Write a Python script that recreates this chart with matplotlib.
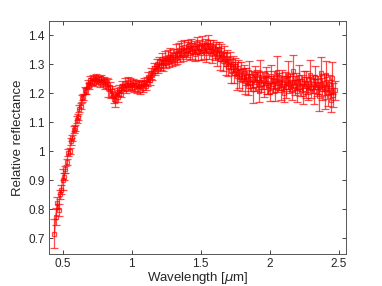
import numpy as np
import matplotlib.pyplot as plt

# wavelength grid (um)
wl_vis = [0.44, 0.45, 0.46, 0.47, 0.48, 0.49, 0.50,
          0.51, 0.52, 0.53, 0.54, 0.55, 0.56, 0.57, 0.58, 0.59, 0.60,
          0.61, 0.62, 0.63, 0.64, 0.65, 0.66, 0.67, 0.68, 0.69, 0.70,
          0.71, 0.72, 0.73, 0.74, 0.75, 0.76, 0.77, 0.78, 0.79, 0.80,
          0.81, 0.82, 0.83, 0.84, 0.85, 0.86, 0.87, 0.88, 0.89, 0.90,
          0.91, 0.92, 0.93, 0.94, 0.95, 0.96, 0.97, 0.98, 0.99, 1.00,
          1.01, 1.02, 1.03, 1.04, 1.05, 1.06, 1.07, 1.08, 1.09, 1.10]
wl_nir = [1.11, 1.12, 1.13, 1.14, 1.15, 1.16, 1.17, 1.18, 1.19, 1.20,
          1.21, 1.22, 1.23, 1.24, 1.25, 1.26, 1.27, 1.28, 1.29, 1.30,
          1.31, 1.32, 1.33, 1.34, 1.35, 1.36, 1.37, 1.38, 1.39, 1.40,
          1.41, 1.42, 1.43, 1.44, 1.45, 1.46, 1.47, 1.48, 1.49, 1.50,
          1.51, 1.52, 1.53, 1.54, 1.55, 1.56, 1.57, 1.58, 1.59, 1.60,
          1.61, 1.62, 1.63, 1.64, 1.65, 1.66, 1.67, 1.68, 1.69, 1.70,
          1.71, 1.72, 1.73, 1.74, 1.75, 1.76, 1.77, 1.78, 1.79, 1.80,
          1.81, 1.82, 1.83, 1.84, 1.85, 1.86, 1.87, 1.88, 1.89, 1.90,
          1.91, 1.92, 1.93, 1.94, 1.95, 1.96, 1.97, 1.98, 1.99, 2.00,
          2.01, 2.02, 2.03, 2.04, 2.05, 2.06, 2.07, 2.08, 2.09, 2.10,
          2.11, 2.12, 2.13, 2.14, 2.15, 2.16, 2.17, 2.18, 2.19, 2.20,
          2.21, 2.22, 2.23, 2.24, 2.25, 2.26, 2.27, 2.28, 2.29, 2.30,
          2.31, 2.32, 2.33, 2.34, 2.35, 2.36, 2.37, 2.38, 2.39, 2.40,
          2.41, 2.42, 2.43, 2.44, 2.45, 2.46, 2.47]

# relative reflectance
refl_vis = [0.715, 0.775, 0.822, 0.798, 0.852, 0.868, 0.902,
            0.912, 0.938, 0.962, 0.994, 1.002, 1.034, 1.046, 1.074, 1.080, 1.108,
            1.118, 1.146, 1.156, 1.182, 1.186, 1.210, 1.208, 1.232, 1.226, 1.246,
            1.240, 1.252, 1.236, 1.256, 1.242, 1.250, 1.234, 1.252, 1.238, 1.246,
            1.226, 1.240, 1.218, 1.222, 1.198, 1.206, 1.180, 1.176, 1.204, 1.186,
            1.214, 1.198, 1.226, 1.220, 1.236, 1.214, 1.240, 1.222, 1.236, 1.218,
            1.238, 1.220, 1.234, 1.214, 1.230, 1.212, 1.234, 1.218, 1.240, 1.226]
refl_nir = [1.240, 1.256, 1.244, 1.268, 1.262, 1.286, 1.278, 1.300, 1.284, 1.306,
            1.298, 1.318, 1.296, 1.322, 1.304, 1.326, 1.308, 1.334, 1.312, 1.330,
            1.318, 1.344, 1.322, 1.348, 1.326, 1.354, 1.332, 1.358, 1.336, 1.350,
            1.362, 1.338, 1.366, 1.344, 1.356, 1.336, 1.370, 1.342, 1.360, 1.338,
            1.372, 1.346, 1.364, 1.338, 1.376, 1.344, 1.362, 1.334, 1.358, 1.342,
            1.348, 1.326, 1.352, 1.318, 1.340, 1.310, 1.336, 1.300, 1.322, 1.292,
            1.312, 1.276, 1.300, 1.268, 1.292, 1.258, 1.286, 1.250, 1.278, 1.246,
            1.270, 1.242, 1.258, 1.224, 1.272, 1.236, 1.248, 1.216, 1.266, 1.240,
            1.250, 1.208, 1.268, 1.232, 1.244, 1.222, 1.262, 1.236, 1.228, 1.204,
            1.258, 1.230, 1.246, 1.212, 1.272, 1.234, 1.240, 1.218, 1.250, 1.200,
            1.244, 1.222, 1.262, 1.230, 1.236, 1.212, 1.276, 1.226, 1.240, 1.206,
            1.256, 1.220, 1.234, 1.198, 1.248, 1.230, 1.226, 1.210, 1.264, 1.218,
            1.232, 1.206, 1.254, 1.220, 1.228, 1.190, 1.270, 1.214, 1.236, 1.186,
            1.262, 1.200, 1.230, 1.176, 1.252, 1.194, 1.210]

# 1-sigma uncertainties
err_vis = [0.050, 0.030, 0.020, 0.020, 0.015, 0.015, 0.035,
           0.012, 0.012, 0.010, 0.012, 0.010, 0.012, 0.010, 0.012, 0.010, 0.012,
           0.010, 0.012, 0.010, 0.012, 0.010, 0.012, 0.010, 0.012, 0.010, 0.012,
           0.012, 0.010, 0.012, 0.010, 0.012, 0.010, 0.012, 0.010, 0.012, 0.010,
           0.012, 0.012, 0.030, 0.015, 0.015, 0.018, 0.015, 0.022, 0.015, 0.018,
           0.015, 0.012, 0.015, 0.012, 0.015, 0.012, 0.015, 0.012, 0.015, 0.012,
           0.012, 0.015, 0.012, 0.015, 0.012, 0.015, 0.012, 0.015, 0.012, 0.015]
err_nir = [0.015, 0.018, 0.015, 0.018, 0.015, 0.018, 0.015, 0.018, 0.015, 0.020,
           0.018, 0.022, 0.018, 0.022, 0.018, 0.022, 0.018, 0.022, 0.018, 0.022,
           0.020, 0.025, 0.020, 0.025, 0.020, 0.025, 0.020, 0.025, 0.020, 0.025,
           0.022, 0.025, 0.022, 0.028, 0.022, 0.025, 0.022, 0.028, 0.022, 0.025,
           0.025, 0.028, 0.022, 0.030, 0.025, 0.028, 0.022, 0.030, 0.025, 0.028,
           0.028, 0.032, 0.025, 0.038, 0.028, 0.032, 0.025, 0.038, 0.028, 0.032,
           0.030, 0.042, 0.028, 0.032, 0.030, 0.048, 0.028, 0.032, 0.030, 0.038,
           0.028, 0.045, 0.030, 0.032, 0.040, 0.028, 0.030, 0.050, 0.028, 0.032,
           0.030, 0.038, 0.045, 0.028, 0.030, 0.035, 0.028, 0.040, 0.030, 0.032,
           0.040, 0.028, 0.032, 0.038, 0.055, 0.030, 0.028, 0.042, 0.030, 0.032,
           0.030, 0.038, 0.048, 0.028, 0.030, 0.035, 0.055, 0.032, 0.028, 0.038,
           0.042, 0.030, 0.028, 0.035, 0.030, 0.045, 0.028, 0.032, 0.050, 0.035,
           0.032, 0.042, 0.040, 0.030, 0.032, 0.050, 0.055, 0.038, 0.030, 0.040,
           0.050, 0.045, 0.032, 0.042, 0.055, 0.040, 0.032]

wl = np.array(wl_vis + wl_nir)
refl = np.array(refl_vis + refl_nir)
err = np.array(err_vis + err_nir)

plt.rcParams['font.family'] = ['Liberation Sans', 'DejaVu Sans']
txt = '#262626'

fig = plt.figure(figsize=(3.82, 2.86), dpi=100)
ax = fig.add_axes([0.128, 0.111, 0.777, 0.817])

red = (1, 0, 0, 0.7)
ax.errorbar(wl, refl, yerr=err, fmt='-s', color=red, ecolor=red,
            mec=red, mfc='none', ms=3.5, lw=0.9, mew=0.9,
            elinewidth=0.9, capsize=2.8, capthick=0.9)

ax.set_xlim(0.4, 2.55)
ax.set_ylim(0.645, 1.45)
ax.set_xticks([0.5, 1, 1.5, 2, 2.5])
ax.set_xticklabels(['0.5', '1', '1.5', '2', '2.5'])
ax.set_yticks([0.7, 0.8, 0.9, 1.0, 1.1, 1.2, 1.3, 1.4])
ax.set_yticklabels(['0.7', '0.8', '0.9', '1', '1.1', '1.2', '1.3', '1.4'])

ax.tick_params(direction='in', top=True, right=True, length=3, width=0.6,
               colors=txt, labelsize=8.5, pad=3)
for s in ax.spines.values():
    s.set_color('#555555')
    s.set_linewidth(0.7)

ax.set_xlabel(r'Wavelength [$\mu$m]', fontsize=9.5, color=txt, labelpad=0)
ax.set_ylabel('Relative reflectance', fontsize=9.5, color=txt, labelpad=3)

fig.savefig('out.png', dpi=100)
